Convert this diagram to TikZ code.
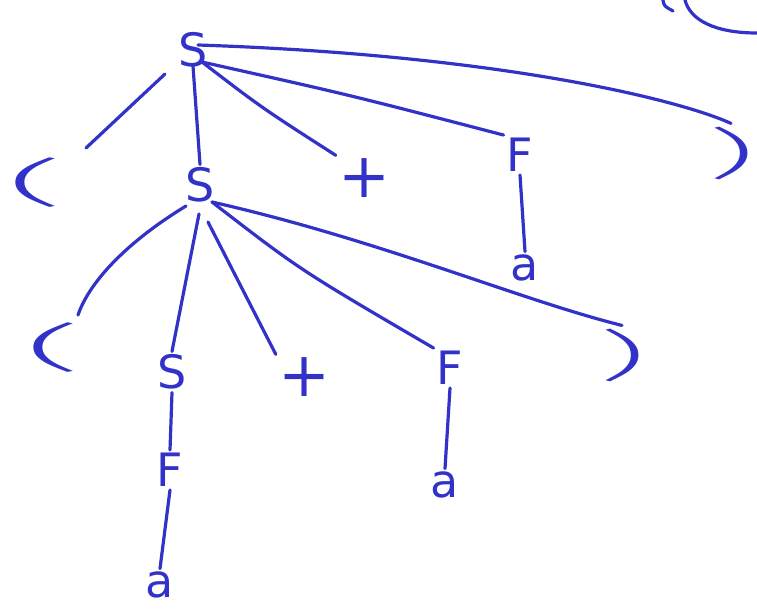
\documentclass[tikz,border=0pt]{standalone}
\usepackage{fontspec}
\setmainfont{DejaVu Sans}
\IfFontExistsTF{Fira Sans UltraLight}{\newfontfamily\thinfont{Fira Sans UltraLight}}{%
  \IfFontExistsTF{Fira Sans ExtraLight}{\newfontfamily\thinfont{Fira Sans ExtraLight}}{\newfontfamily\thinfont{Latin Modern Sans}}}
\definecolor{ink}{RGB}{50,50,200}
\newcommand{\lpar}{{\thinfont\fontsize{64}{64}\selectfont\scalebox{3.0}[0.8]{(}}}
\newcommand{\rpar}{{\thinfont\fontsize{64}{64}\selectfont\scalebox{2.5}[0.85]{)}}}
\begin{document}
\begin{tikzpicture}[x=1pt,y=-1pt,
  sym/.style={text=ink,font=\fontsize{46}{46}\selectfont,inner sep=3pt},
  edge/.style={draw=ink,line width=3.2pt,line cap=round}]
\useasboundingbox (0,0) rectangle (757,614);
% nodes
\node[sym] (s0) at (193,50) {S};
\node[sym] (l1) at (36,183) {\lpar};
\node[sym] (s1) at (200,185) {S};
\node[sym] (p1) at (365,178) {\scalebox{1.35}{+}};
\node[sym] (f1) at (520,155) {F};
\node[sym] (r1) at (731,153) {\rpar};
\node[sym] (a1) at (525,268) {a};
\node[sym] (l2) at (54,348) {\lpar};
\node[sym] (s2) at (172,372) {S};
\node[sym] (p2) at (305,377) {\scalebox{1.35}{+}};
\node[sym] (f2) at (450,368) {F};
\node[sym] (r2) at (622,355) {\rpar};
\node[sym] (a2) at (445,485) {a};
\node[sym] (f3) at (170,470) {F};
\node[sym] (a3) at (160,585) {a};
% connector ends
\coordinate (t0) at (193,66);
\coordinate (t1) at (202,62);
\coordinate (t2) at (198,45);
\coordinate (tl) at (165,74);
\coordinate (el1) at (86,148);
\coordinate (u0) at (186,206);
\coordinate (u1) at (199,214);
\coordinate (u2) at (208,222);
\coordinate (u3) at (212,202);
\coordinate (el2) at (78,315);
% edges from top S
\draw[edge] (tl) -- (el1);
\draw[edge] (t0) -- (s1.north);
\draw[edge] (t1) .. controls (262,108) .. (p1.north west);
\draw[edge] (t1) .. controls (350,95) .. (f1.north west);
\draw[edge] (t2) .. controls (500,55) and (680,100) .. (r1.north);
% edges from middle S
\draw[edge] (u0) .. controls (130,240) and (90,280) .. (el2);
\draw[edge] (u1) -- (s2.north);
\draw[edge] (u2) .. controls (230,265) .. (p2.north west);
\draw[edge] (u3) .. controls (300,270) .. (f2.north west);
\draw[edge] (u3) .. controls (380,240) and (520,300) .. (r2.north);
% other edges
\draw[edge] (f1.south) -- (a1.north);
\draw[edge] (f2.south) -- (a2.north);
\draw[edge] (s2.south) -- (f3.north);
\draw[edge] (f3.south) -- (a3.north);
% cut-off strokes at top right
\draw[edge] (663,0) .. controls (664,6) .. (673,11);
\draw[edge] (685,0) .. controls (690,20) and (715,33) .. (757,33);
\end{tikzpicture}
\end{document}
